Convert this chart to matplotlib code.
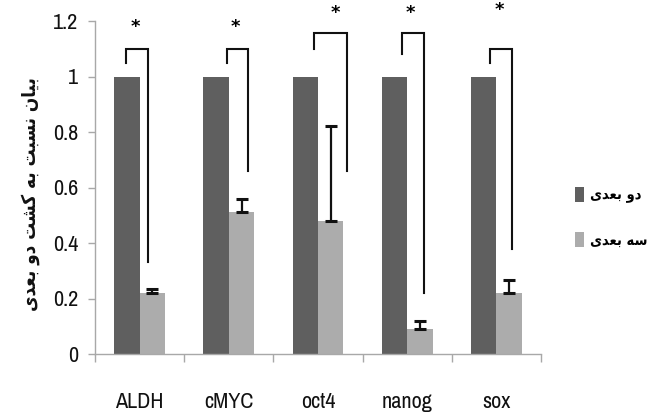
import matplotlib
matplotlib.use("Agg")
import matplotlib.pyplot as plt
import numpy as np
from matplotlib.ticker import FixedLocator, FuncFormatter

# ---------------- data ----------------
categories = ["ALDH", "cMYC", "oct4", "nanog", "sox"]
two_d = [1.0, 1.0, 1.0, 1.0, 1.0]
three_d = [0.22, 0.51, 0.48, 0.09, 0.22]
three_d_err = [0.015, 0.05, 0.34, 0.03, 0.045]
y_ticks = [0, 0.2, 0.4, 0.6, 0.8, 1.0, 1.2]

label_2d = "دو بعدی"
label_3d = "سه بعدی"
y_label = "بیان نسبت به کشت دو بعدی"

# significance brackets (offsets relative to category centre)
br_left = [-0.15, -0.02, -0.04, -0.06, -0.07]
br_right = [0.095, 0.21, 0.33, 0.19, 0.18]
br_top = [1.10, 1.10, 1.157, 1.157, 1.10]
br_left_bot = [1.05, 1.05, 1.10, 1.08, 1.05]
br_right_bot = [0.33, 0.66, 0.66, 0.22, 0.38]
star_dx = [-0.05, 0.07, 0.20, 0.03, 0.03]
star_y = [1.18, 1.18, 1.23, 1.23, 1.24]

# ---------------- simple Persian shaping ----------------
FORMS = {
    'ب': ('\uFE8F', '\uFE90', '\uFE91', '\uFE92'),
    'ت': ('\uFE95', '\uFE96', '\uFE97', '\uFE98'),
    'س': ('\uFEB1', '\uFEB2', '\uFEB3', '\uFEB4'),
    'ش': ('\uFEB5', '\uFEB6', '\uFEB7', '\uFEB8'),
    'ع': ('\uFEC9', '\uFECA', '\uFECB', '\uFECC'),
    'ن': ('\uFEE5', '\uFEE6', '\uFEE7', '\uFEE8'),
    'ه': ('\uFEE9', '\uFEEA', '\uFEEB', '\uFEEC'),
    'ک': ('\uFB8E', '\uFB8F', '\uFB90', '\uFB91'),
    'ی': ('\uFBFC', '\uFBFD', '\uFBFE', '\uFBFF'),
    'ا': ('\uFE8D', '\uFE8E', '\uFE8D', '\uFE8E'),
    'د': ('\uFEA9', '\uFEAA', '\uFEA9', '\uFEAA'),
    'و': ('\uFEED', '\uFEEE', '\uFEED', '\uFEEE'),
}
RIGHT_ONLY = set('ادو')


def shape(text):
    words = []
    for word in text.split(' '):
        res = []
        for i, c in enumerate(word):
            if c not in FORMS:
                res.append(c)
                continue
            prev = word[i - 1] if i > 0 else None
            nxt = word[i + 1] if i + 1 < len(word) else None
            jp = prev is not None and prev in FORMS and prev not in RIGHT_ONLY
            jn = nxt is not None and nxt in FORMS and c not in RIGHT_ONLY
            f = FORMS[c]
            if jp and jn:
                res.append(f[3])
            elif jp:
                res.append(f[1])
            elif jn:
                res.append(f[2])
            else:
                res.append(f[0])
        words.append(''.join(res))
    return ' '.join(words)[::-1]


plt.rcParams['font.family'] = ['Archivo Narrow', 'DejaVu Sans']
fa_font = ['DejaVu Sans']

# ---------------- figure ----------------
fig = plt.figure(figsize=(6.59, 4.12), dpi=100)
ax = fig.add_axes([95 / 659, 1 - 354 / 412, (541 - 95) / 659, (354 - 21) / 412])

x = np.arange(len(categories))
w = 0.285
dark = "#5f5f5f"
light = "#acacac"

b1 = ax.bar(x - w / 2, two_d, w, color=dark, label=shape(label_2d), zorder=2)
b2 = ax.bar(x + w / 2, three_d, w, color=light, label=shape(label_3d), zorder=2)
ax.errorbar(x + w / 2, three_d, yerr=[np.zeros(len(three_d)), three_d_err],
            fmt='none', ecolor='#111111', elinewidth=1.6, capsize=4, capthick=2.2, zorder=3)

# brackets
for i in range(len(categories)):
    xl = x[i] + br_left[i]
    xr = x[i] + br_right[i]
    ax.plot([xl, xl, xr, xr], [br_left_bot[i], br_top[i], br_top[i], br_right_bot[i]],
            color='#111111', lw=1.5, solid_joinstyle='miter', clip_on=False, zorder=4)
    ax.text(x[i] + star_dx[i], star_y[i], '*', ha='center', va='center',
            fontsize=13, fontweight='bold', family='DejaVu Sans', clip_on=False)

ax.set_xlim(-0.5, len(categories) - 0.5)
ax.set_ylim(0, 1.2)
ax.yaxis.set_major_locator(FixedLocator(y_ticks))
ax.yaxis.set_major_formatter(FuncFormatter(lambda v, p: f"{v:g}"))
ax.set_xticks(x)
ax.set_xticklabels(categories)
ax.xaxis.set_minor_locator(FixedLocator(np.arange(-0.5, len(categories), 1.0)))

for s in ['top', 'right']:
    ax.spines[s].set_visible(False)
for s in ['left', 'bottom']:
    ax.spines[s].set_color('#a8a8a8')
    ax.spines[s].set_linewidth(1.0)

ax.tick_params(axis='x', which='major', length=0, pad=27, labelsize=16, labelcolor='#111111')
ax.tick_params(axis='x', which='minor', length=6, color='#a8a8a8', width=1.0, direction='out')
ax.tick_params(axis='y', which='major', length=5, color='#a8a8a8', width=1.0,
               pad=7, labelsize=16, labelcolor='#111111')

fig.text(31 / 659, 1 - 194 / 412, shape(y_label), rotation=90, ha='center', va='center',
         fontsize=13.5, fontweight='bold', fontstretch='condensed', family=fa_font, color='#111111')

leg = ax.legend(handles=[b1, b2], loc='center left', bbox_to_anchor=(568 / 659, 1 - 217 / 412),
                bbox_transform=fig.transFigure, frameon=False, handlelength=0.6,
                handleheight=1.2, handletextpad=0.4, labelspacing=2.0, borderpad=0,
                prop={'family': fa_font, 'weight': 'bold', 'stretch': 'condensed', 'size': 10.5})

fig.savefig("out.png", dpi=100)
